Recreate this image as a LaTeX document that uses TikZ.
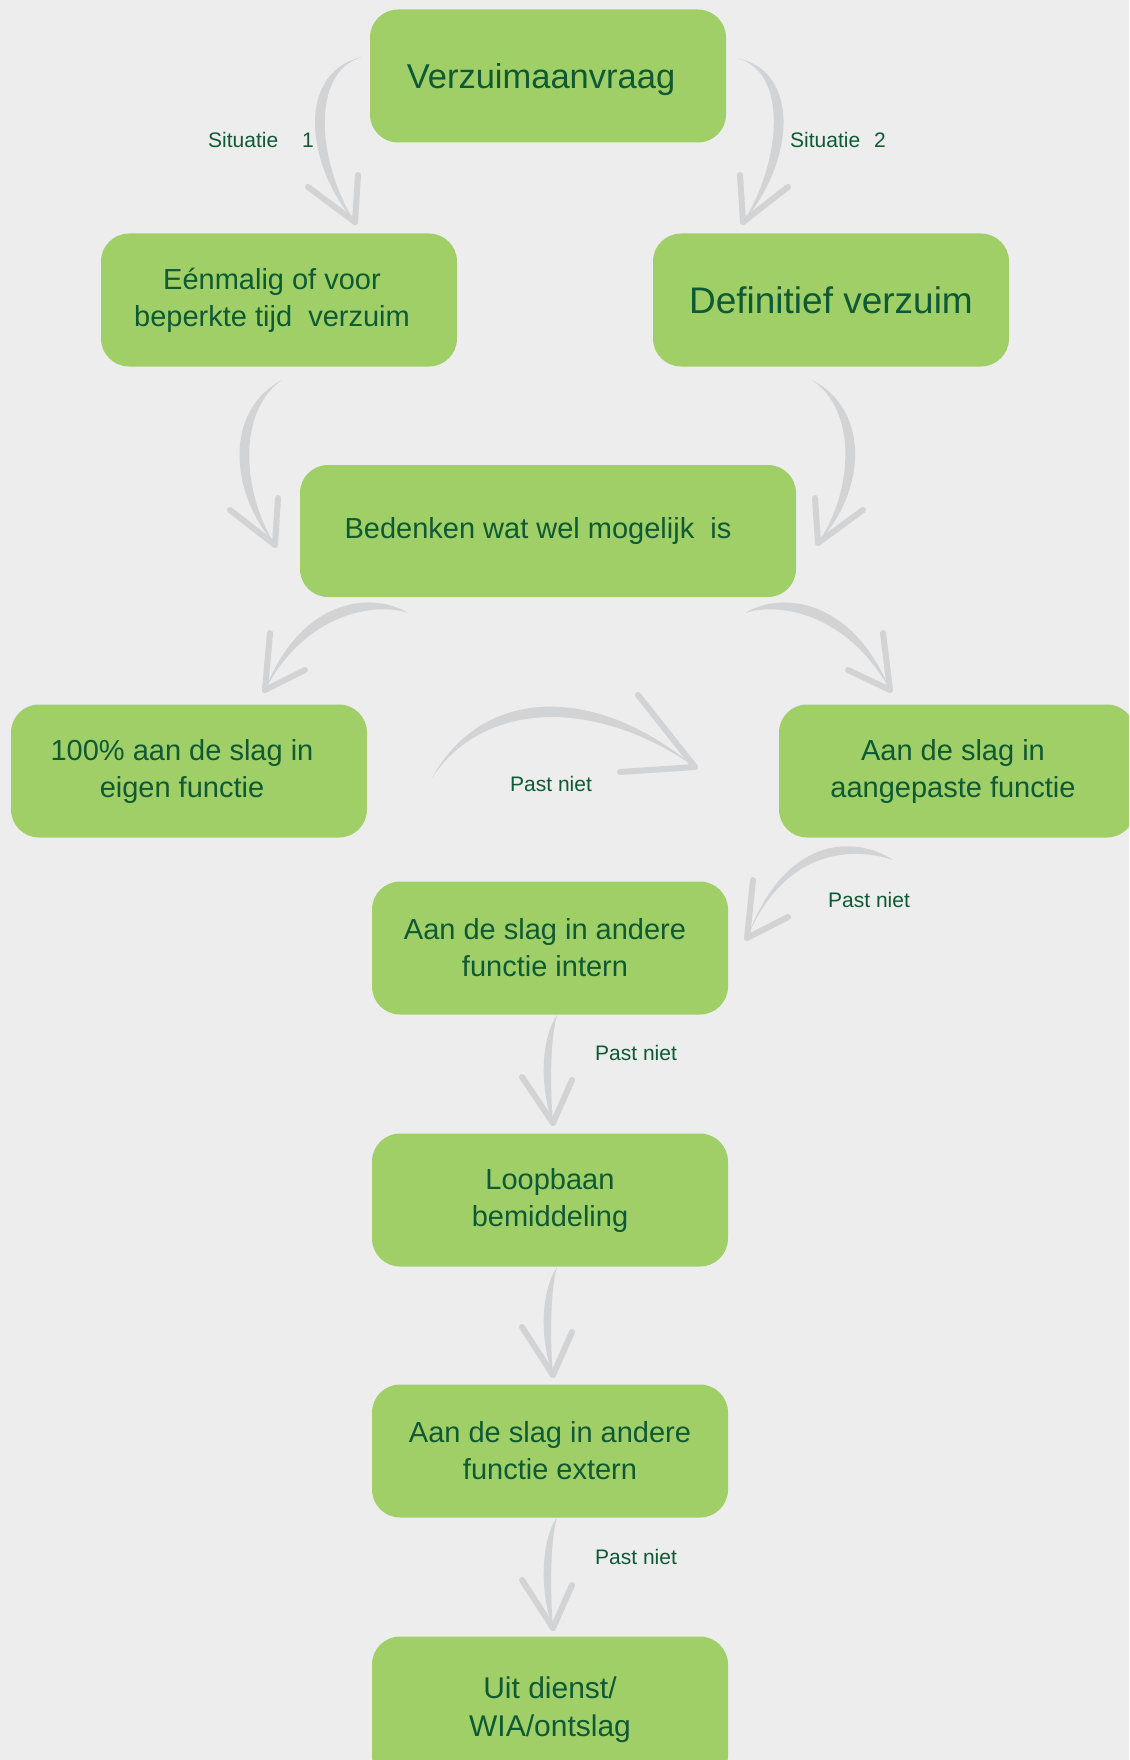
\documentclass[tikz,border=0pt]{standalone}
\usepackage{fontspec}
\setmainfont{Liberation Sans}
\usetikzlibrary{calc}
\definecolor{achtergrond}{HTML}{EDEDED}
\definecolor{vakgroen}{HTML}{A0CF68}
\definecolor{tekstgroen}{HTML}{0E5A34}
\definecolor{pijlgrijs}{HTML}{D2D3D5}
% 曲がった灰色の矢印: 尾, 制御点1, 制御点2, 先端, 太さのずれ, 返し1, 返し2
\newcommand{\boogpijl}[7]{%
  \fill[pijlgrijs] #1 .. controls #2 and #3 .. #4
    .. controls ($#3+#5$) and ($#2+#5$) .. #1 -- cycle;
  \draw[pijlpunt] #6 -- #4;
  \draw[pijlpunt] #7 -- #4;
}
\newcommand{\opzij}[1]{\hspace*{#1}} % 文字を少し左へ寄せる

\begin{document}
\begin{tikzpicture}[x=1pt,y=-1pt,
  vak/.style={fill=vakgroen,rounded corners=28pt,minimum width=356pt,minimum height=133pt,
    align=center,text=tekstgroen,font=\fontsize{29}{37}\selectfont},
  grootvak/.style={vak,font=\fontsize{34.5}{40}\selectfont},
  notitie/.style={text=tekstgroen,inner sep=0pt,anchor=west,font=\fontsize{21}{25}\selectfont},
  pijlpunt/.style={draw=pijlgrijs,line width=6pt,line cap=round}]
  \useasboundingbox (0,0) rectangle (1129,1760); % 図全体の大きさ
  \clip (0,0) rectangle (1129,1760);
  \fill[achtergrond] (0,0) rectangle (1129,1760); % 薄い灰色の背景

  % 矢印の尾と先端
  \coordinate (s1a) at (362,57);   \coordinate (s1b) at (355,222);
  \coordinate (s2a) at (737,58);   \coordinate (s2b) at (743,222);
  \coordinate (ea) at (282,380);   \coordinate (eb) at (275,545);
  \coordinate (da) at (812,380);   \coordinate (db) at (818,543);
  \coordinate (bla) at (408,613);  \coordinate (blb) at (265,690);
  \coordinate (bra) at (745,613);  \coordinate (brb) at (890,690);
  \coordinate (pna) at (432,778);  \coordinate (pnb) at (695,767);
  \coordinate (aga) at (893,860);  \coordinate (agb) at (747,938);
  \coordinate (ina) at (557,1015); \coordinate (inb) at (553,1123);
  \coordinate (lba) at (557,1267); \coordinate (lbb) at (553,1375);
  \coordinate (exa) at (557,1517); \coordinate (exb) at (553,1628);

  \boogpijl{(s1a)}{(296,72)}{(305,165)}{(s1b)}{(13,0)}{(308,187)}{(358,175)} % 状況1
  \boogpijl{(s2a)}{(803,72)}{(793,165)}{(s2b)}{(-13,0)}{(740,175)}{(788,187)} % 状況2
  \boogpijl{(ea)}{(225,410)}{(228,490)}{(eb)}{(13,0)}{(230,510)}{(278,498)}
  \boogpijl{(da)}{(870,410)}{(867,490)}{(db)}{(-13,0)}{(815,498)}{(863,510)}
  \boogpijl{(bla)}{(370,590)}{(300,600)}{(blb)}{(6,12)}{(270,633)}{(305,670)}
  \boogpijl{(bra)}{(783,590)}{(853,600)}{(brb)}{(-6,12)}{(883,633)}{(848,670)}
  \boogpijl{(pna)}{(480,690)}{(590,680)}{(pnb)}{(0,14)}{(638,695)}{(620,772)} % 横向きの「合わない」
  \boogpijl{(aga)}{(855,835)}{(785,835)}{(agb)}{(0,12)}{(753,880)}{(788,917)}
  \boogpijl{(ina)}{(540,1040)}{(540,1090)}{(inb)}{(10,0)}{(522,1077)}{(572,1080)}
  \boogpijl{(lba)}{(540,1292)}{(540,1342)}{(lbb)}{(10,0)}{(522,1327)}{(572,1332)}
  \boogpijl{(exa)}{(540,1542)}{(540,1595)}{(exb)}{(10,0)}{(522,1580)}{(572,1585)}

  % 緑の箱
  \node[grootvak] (verzuim) at (548,76) {\raisebox{-4pt}[\height][\depth]{Verzuimaanvraag}\opzij{14pt}};
  \node[vak] (eenmalig) at (279,300) {Eénmalig of voor\opzij{14pt}\\beperkte tijd\ \ verzuim\opzij{14pt}};
  \node[vak,font=\fontsize{37}{42}\selectfont] (definitief) at (831,300) {Definitief verzuim};
  \node[vak,minimum width=496pt,minimum height=132pt] (bedenken) at (548,531) {Bedenken wat wel mogelijk\ \ is\opzij{20pt}};
  \node[vak] (eigen) at (189,771) {100\% aan de slag in\opzij{14pt}\\eigen functie\opzij{14pt}};
  \node[vak] (aangepast) at (957,771) {Aan de slag in\opzij{8pt}\\aangepaste functie\opzij{8pt}};
  \node[vak] (intern) at (550,948) {Aan de slag in andere\opzij{10pt}\\functie intern\opzij{10pt}};
  \node[vak] (loopbaan) at (550,1200) {Loopbaan\\bemiddeling};
  \node[vak] (extern) at (550,1451) {Aan de slag in andere\\functie extern};
  \node[vak,font=\fontsize{30}{38}\selectfont,minimum height=147pt] (uitdienst) at (550,1710) {Uit dienst/\\WIA/ontslag}; % 下端で切れる

  % 矢印の説明
  \node[notitie] (sit1) at (208,140) {Situatie\hspace{24pt}1};
  \node[notitie] (sit2) at (790,140) {Situatie\hspace{14pt}2};
  \node[notitie] (pn1) at (510,784) {Past niet};
  \node[notitie] (pn2) at (828,900) {Past niet};
  \node[notitie] (pn3) at (595,1053) {Past niet};
  \node[notitie] (pn4) at (595,1557) {Past niet};
\end{tikzpicture}
\end{document}
